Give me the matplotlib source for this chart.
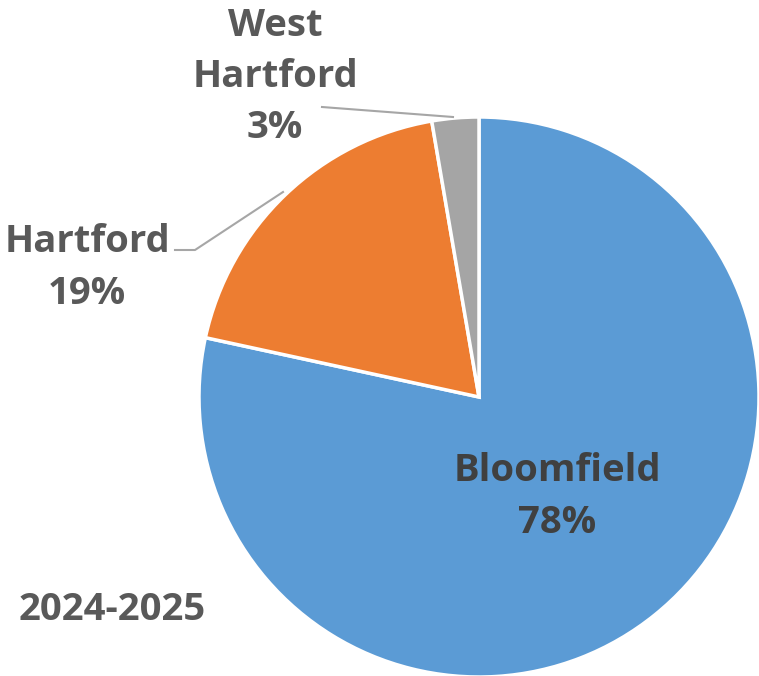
import matplotlib.pyplot as plt

# Data
towns = ["Bloomfield", "Hartford", "West\nHartford"]
shares = [78.4, 18.9, 2.7]
colors = ["#5B9BD5", "#ED7D31", "#A5A5A5"]
season = "2024-2025"

W, H = 759, 676
text_color = "#595959"
font = dict(family=["Open Sans", "DejaVu Sans"], fontweight="bold",
            fontsize=27.5, color=text_color, ha="center", va="center",
            linespacing=1.45)

fig = plt.figure(figsize=(W / 100, H / 100), dpi=100)
ax = fig.add_axes([0, 0, 1, 1])

cx, cy, r = 479, H - 397, 280
ax.pie(shares, colors=colors, startangle=90, counterclock=False,
       center=(cx, cy), radius=r, frame=True,
       wedgeprops=dict(edgecolor="white", linewidth=2.5))
ax.set_xlim(0, W)
ax.set_ylim(0, H)
ax.set_aspect("equal")
ax.axis("off")

# Labels
lab = [f"{t}\n{s:.0f}%" for t, s in zip(towns, shares)]
ax.text(557, H - 497, lab[0], **{**font, "color": "#404040"})
ax.text(87, H - 268, lab[1], **font)
ax.text(275, H - 77, lab[2], **font)

# Leader lines
ax.plot([175, 195, 283], [H - 250, H - 250, H - 192], color="#A6A6A6", lw=1.5)
ax.plot([322, 453], [H - 107, H - 117], color="#A6A6A6", lw=1.5)

ax.text(19, H - 610, season, **{**font, "ha": "left"})

fig.savefig("out.png", dpi=100)
